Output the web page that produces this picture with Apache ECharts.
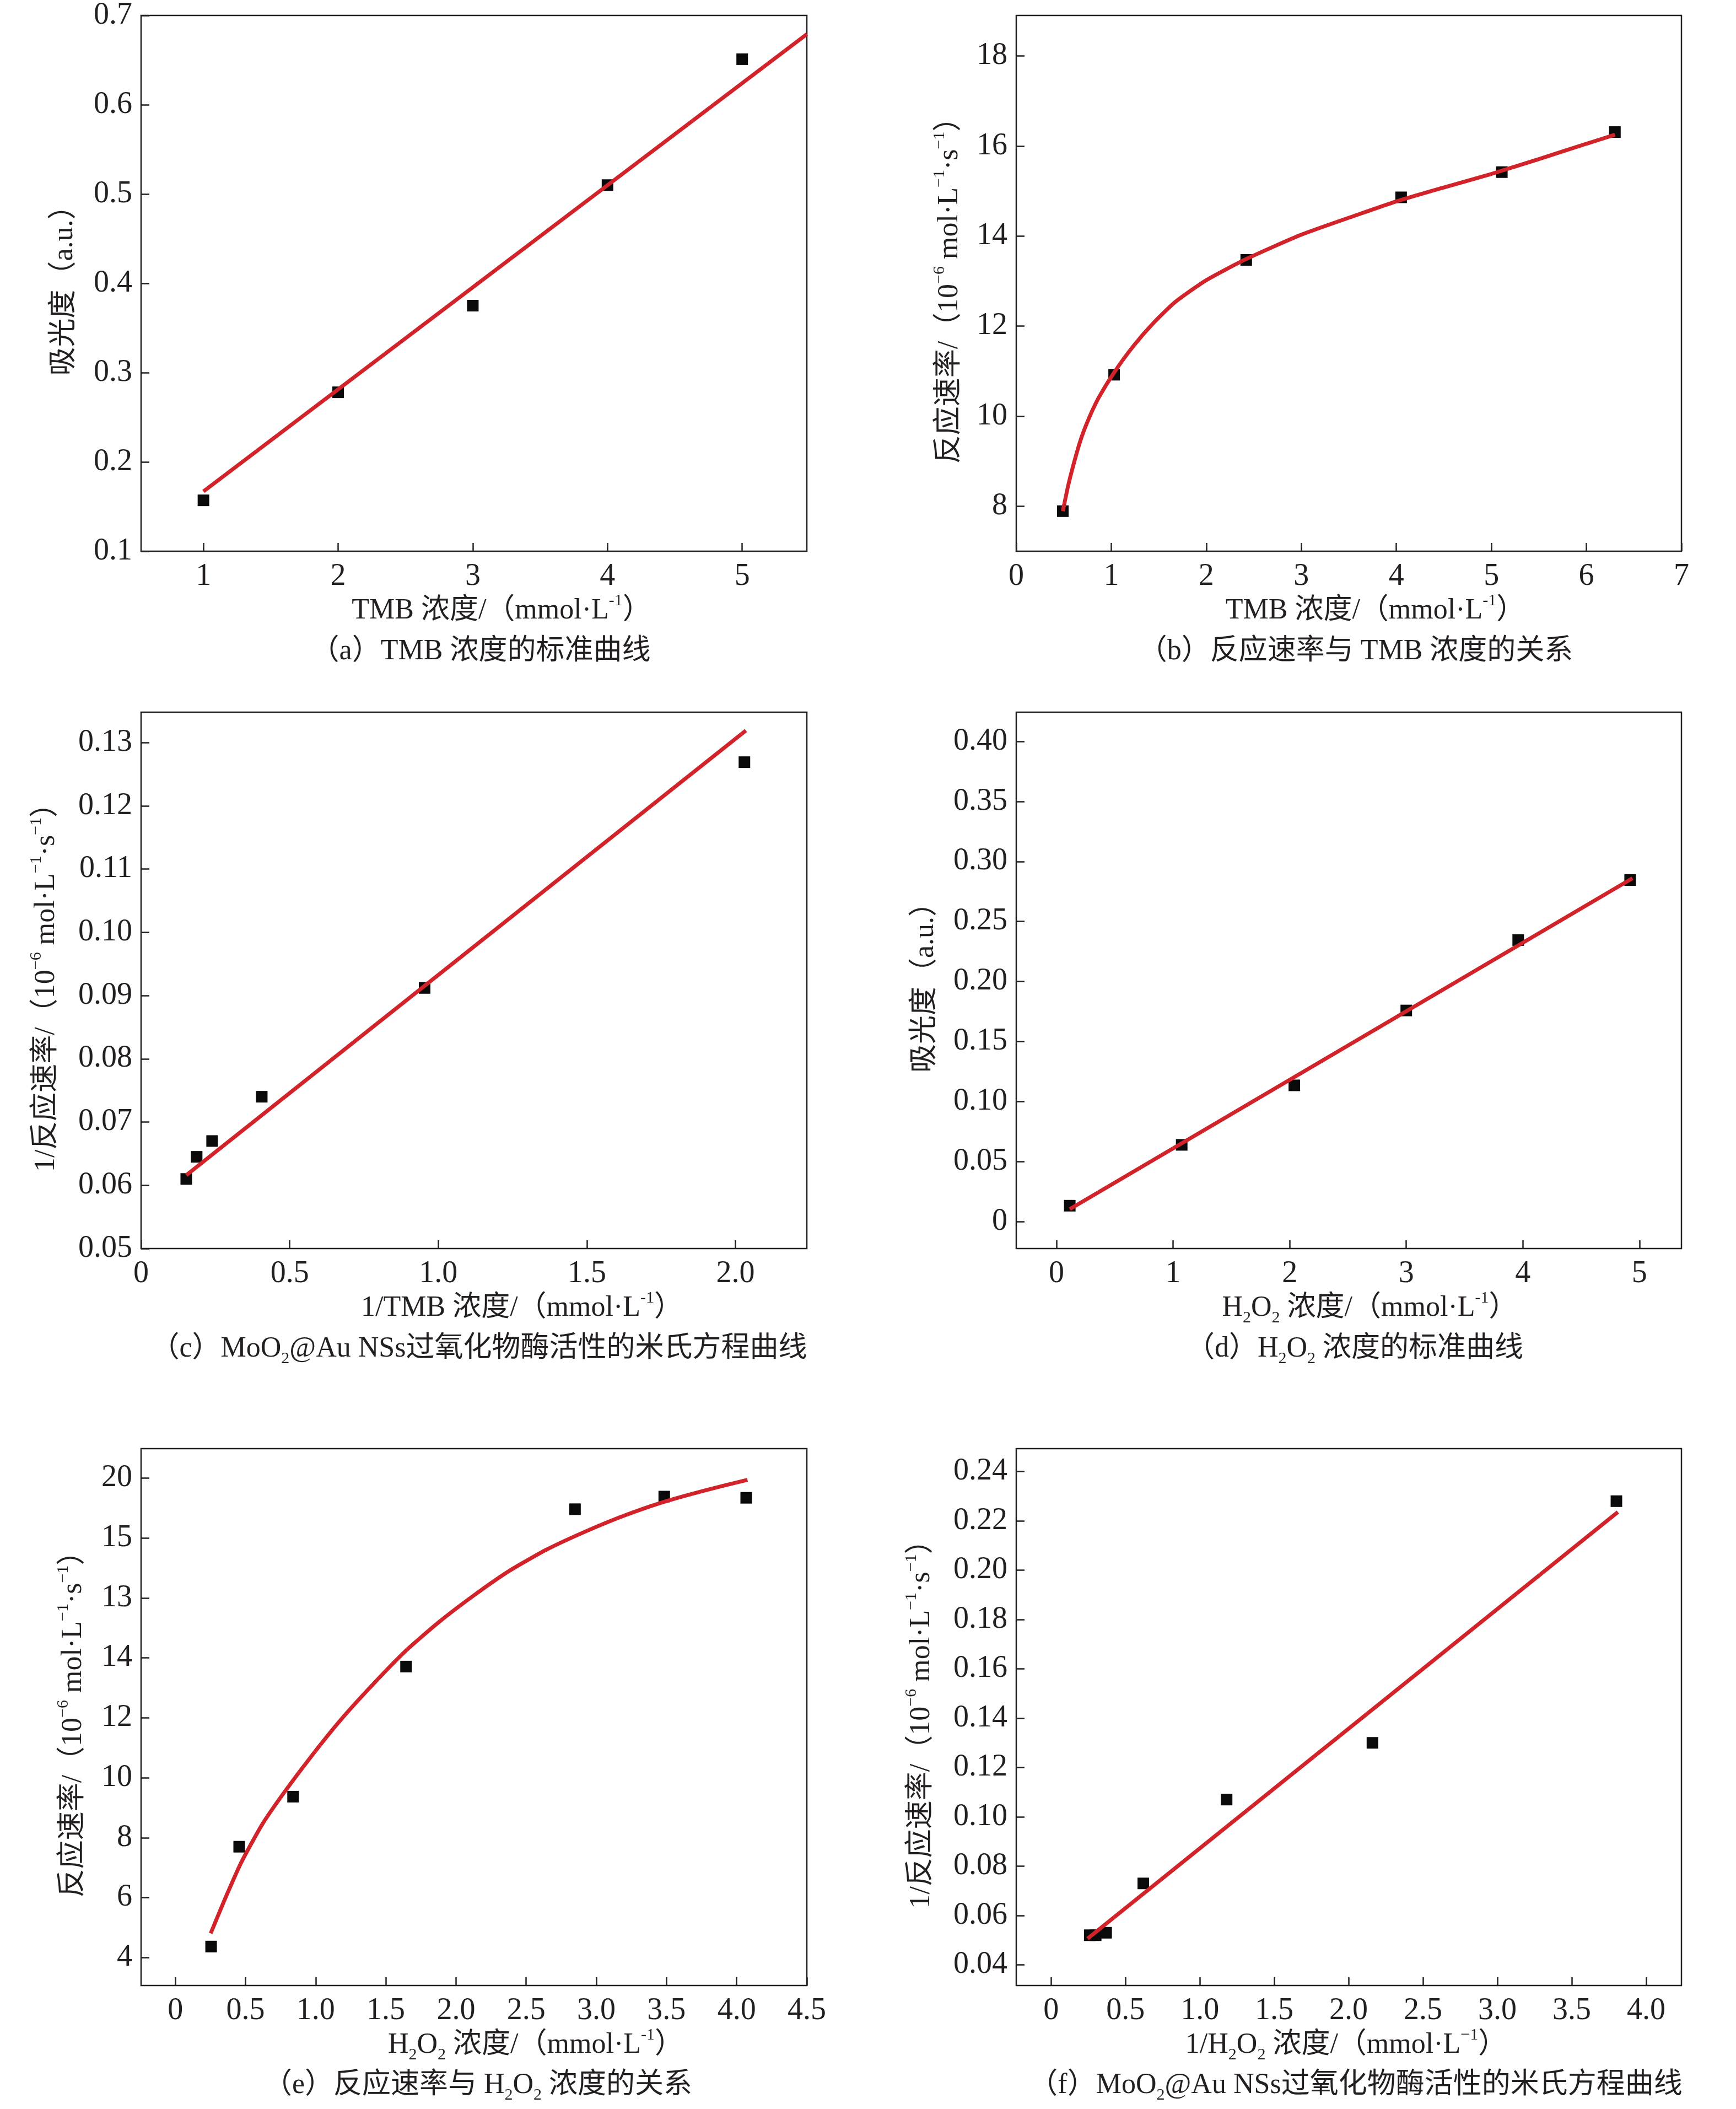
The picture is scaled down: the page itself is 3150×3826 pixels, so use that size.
<!DOCTYPE html>
<html>
<head>
<meta charset="utf-8">
<script src="https://cdn.jsdelivr.net/npm/echarts@6/dist/echarts.min.js"></script>
<style>
  html, body { margin: 0; padding: 0; background: #fff; }
  #view { width: 3150px; height: 3826px; }
</style>
</head>
<body>
<div id="view"></div>
<script>
/* (a) TMB 浓度的标准曲线 */
var aX = [1, 2, 3, 4, 5];
var aY = [0.157, 0.278, 0.375, 0.510, 0.651];
var aFitX = [1, 5.48];
var aFitY = [0.167, 0.679];
var aXTicks = [1, 2, 3, 4, 5];
var aYTicks = [0.1, 0.2, 0.3, 0.4, 0.5, 0.6, 0.7];

/* (b) 反应速率与 TMB 浓度的关系 */
var bX = [0.49, 1.03, 2.42, 4.05, 5.11, 6.30];
var bY = [7.89, 10.92, 13.47, 14.86, 15.42, 16.31];
var bFitX = [0.49, 0.55, 0.62, 0.69, 0.77, 0.87, 1.03, 1.23, 1.44, 1.67, 2.0, 2.42, 3.0, 3.6, 4.0, 4.5, 5.0, 5.5, 6.0, 6.3];
var bFitY = [7.89, 8.49, 9.06, 9.55, 9.98, 10.42, 10.97, 11.55, 12.06, 12.53, 13.02, 13.49, 14.03, 14.48, 14.77, 15.08, 15.38, 15.71, 16.05, 16.25];
var bXTicks = [0, 1, 2, 3, 4, 5, 6, 7];
var bYTicks = [8, 10, 12, 14, 16, 18];

/* (c) 米氏方程曲线 (TMB) */
var cX = [0.152, 0.187, 0.239, 0.406, 0.954, 2.03];
var cY = [0.0610, 0.0645, 0.0670, 0.0740, 0.0912, 0.1269];
var cFitX = [0.152, 2.035];
var cFitY = [0.0616, 0.1319];
var cXTicks = [0, 0.5, 1.0, 1.5, 2.0];
var cYTicks = [0.05, 0.06, 0.07, 0.08, 0.09, 0.10, 0.11, 0.12, 0.13];

/* (d) H2O2 浓度的标准曲线 */
var dX = [0.114, 1.074, 2.04, 3.0, 3.96, 4.92];
var dY = [0.0131, 0.0638, 0.1134, 0.1758, 0.2345, 0.2845];
var dFitX = [0.114, 4.94];
var dFitY = [0.0102, 0.286];
var dXTicks = [0, 1, 2, 3, 4, 5];
var dYTicks = [0, 0.05, 0.10, 0.15, 0.20, 0.25, 0.30, 0.35, 0.40];

/* (e) 反应速率与 H2O2 浓度的关系 */
var eX = [0.255, 0.455, 0.839, 1.644, 2.848, 3.484, 4.068];
var eY = [4.37, 7.70, 9.37, 13.71, 18.96, 19.38, 19.34];
var eFitX = [0.252, 0.344, 0.467, 0.62, 0.774, 0.958, 1.173, 1.389, 1.634, 1.88, 2.126, 2.372, 2.649, 2.925, 3.201, 3.478, 3.785, 4.077];
var eFitY = [4.81, 5.85, 7.15, 8.45, 9.50, 10.65, 11.90, 13.02, 14.20, 15.20, 16.08, 16.88, 17.62, 18.22, 18.75, 19.20, 19.60, 19.94];
var eXTicks = [0, 0.5, 1.0, 1.5, 2.0, 2.5, 3.0, 3.5, 4.0, 4.5];
var eYTicks = [4, 6, 8, 10, 12, 14, 16, 18, 20];
var eYTickLabels = ['4', '6', '8', '10', '12', '14', '13', '15', '20'];   // 原图刻度文字

/* (f) 米氏方程曲线 (H2O2) */
var fX = [0.26, 0.30, 0.37, 0.62, 1.18, 2.16, 3.80];
var fY = [0.052, 0.052, 0.053, 0.073, 0.107, 0.130, 0.228];
var fFitX = [0.245, 3.81];
var fFitY = [0.0506, 0.2236];
var fXTicks = [0, 0.5, 1.0, 1.5, 2.0, 2.5, 3.0, 3.5, 4.0];
var fYTicks = [0.04, 0.06, 0.08, 0.10, 0.12, 0.14, 0.16, 0.18, 0.20, 0.22, 0.24];

var FONT = "'Liberation Serif', 'Noto Sans CJK SC', serif";
var INK = '#231f20';
var RED = '#d2232a';

var rich = {
    sup: { fontSize: 30, lineHeight: 36, verticalAlign: 'top', fontFamily: FONT, color: INK, fill: INK },
    sub: { fontSize: 30, lineHeight: 30, verticalAlign: 'bottom', fontFamily: FONT, color: INK, fill: INK }
};

function zip(xs, ys) {
    return xs.map(function (x, i) { return [x, ys[i]]; });
}
function fmt1(v) { return v === 0 ? '0' : v.toFixed(1); }
function fmt2(v) { return v === 0 ? '0' : v.toFixed(2); }

var rateName = '反应速率/（10{sup|−6} mol·L{sup|−1}·s{sup|−1}）';
var invRateName = '1/反应速率/（10{sup|−6} mol·L{sup|−1}·s{sup|−1}）';

/* 六个子图的配置 */
var panels = [
    { grid: [256, 28, 1208, 972], x: [0.537, 5.48], y: [0.1, 0.7],
      xt: aXTicks, yt: aYTicks, xf: String, yf: fmt1,
      xName: 'TMB 浓度/（mmol·L{sup|-1}）', xShift: 50, xGap: 72,
      yName: '吸光度（a.u.）', yGap: 106,
      pts: zip(aX, aY), fit: zip(aFitX, aFitY), smooth: false,
      cap: '（a）TMB 浓度的标准曲线', capXY: [872, 1182] },
    { grid: [1844, 28, 1207, 972], x: [0, 7], y: [7.0, 18.9],
      xt: bXTicks, yt: bYTicks, xf: String, yf: String,
      xName: 'TMB 浓度/（mmol·L{sup|-1}）', xShift: 48, xGap: 72,
      yName: rateName, yGap: 88,
      pts: zip(bX, bY), fit: zip(bFitX, bFitY), smooth: true,
      cap: '（b）反应速率与 TMB 浓度的关系', capXY: [2460, 1182] },
    { grid: [256, 1292, 1208, 973], x: [0, 2.24], y: [0.05, 0.1348],
      xt: cXTicks, yt: cYTicks, xf: fmt1, yf: function (v) { return v.toFixed(2); },
      xName: '1/TMB 浓度/（mmol·L{sup|-1}）', xShift: 87, xGap: 72,
      yName: invRateName, yGap: 139,
      pts: zip(cX, cY), fit: zip(cFitX, cFitY), smooth: false,
      cap: '（c）MoO{sub|2}@Au NSs过氧化物酶活性的米氏方程曲线', capXY: [869, 2447] },
    { grid: [1844, 1292, 1207, 973], x: [-0.345, 5.36], y: [-0.0226, 0.4244],
      xt: dXTicks, yt: dYTicks, xf: String, yf: fmt2,
      xName: 'H{sub|2}O{sub|2} 浓度/（mmol·L{sup|-1}）', xShift: 38, xGap: 72,
      yName: '吸光度（a.u.）', yGap: 132,
      pts: zip(dX, dY), fit: zip(dFitX, dFitY), smooth: false,
      cap: '（d）H{sub|2}O{sub|2} 浓度的标准曲线', capXY: [2458, 2447] },
    { grid: [256, 2628, 1208, 974], x: [-0.244, 4.5], y: [3.07, 20.98],
      xt: eXTicks, yt: eYTicks, xf: fmt1,
      yf: function (v) { return eYTickLabels[eYTicks.indexOf(v)]; },
      xName: 'H{sub|2}O{sub|2} 浓度/（mmol·L{sup|-1}）', xShift: 112, xGap: 72,
      yName: rateName, yGap: 90,
      pts: zip(eX, eY), fit: zip(eFitX, eFitY), smooth: true,
      cap: '（e）反应速率与 H{sub|2}O{sub|2} 浓度的关系', capXY: [867, 3783] },
    { grid: [1844, 2628, 1207, 974], x: [-0.234, 4.237], y: [0.0316, 0.2493],
      xt: fXTicks, yt: fYTicks, xf: fmt1, yf: function (v) { return v.toFixed(2); },
      xName: '1/H{sub|2}O{sub|2} 浓度/（mmol·L{sup|−1}）', xShift: -5, xGap: 72,
      yName: invRateName, yGap: 139,
      pts: zip(fX, fY), fit: zip(fFitX, fFitY), smooth: false,
      cap: '（f）MoO{sub|2}@Au NSs过氧化物酶活性的米氏方程曲线', capXY: [2460, 3783] }
];

var myCharts = echarts.init(document.getElementById('view'));

var option = {
    animation: false,
    backgroundColor: '#fff',
    grid: [], xAxis: [], yAxis: [], series: [], graphic: []
};

panels.forEach(function (p, i) {
    option.grid.push({
        left: p.grid[0], top: p.grid[1], width: p.grid[2], height: p.grid[3],
        show: true, borderColor: INK, borderWidth: 2.5, backgroundColor: 'transparent'
    });
    var tickStyle = { inside: true, length: 15, lineStyle: { color: INK, width: 2.5 } };
    option.xAxis.push({
        type: 'value', gridIndex: i, min: p.x[0], max: p.x[1],
        axisLine: { show: false, onZero: false },
        splitLine: { show: false },
        axisTick: Object.assign({ customValues: p.xt }, tickStyle),
        axisLabel: { customValues: p.xt, formatter: p.xf, fontSize: 56, fontFamily: FONT, color: INK, margin: 18 },
        name: p.xName, nameLocation: 'middle', nameGap: p.xGap,
        nameTextStyle: { fontSize: 52, fontFamily: FONT, color: INK, lineHeight: 66, rich: rich,
            padding: p.xShift >= 0 ? [0, 0, 0, 2 * p.xShift] : [0, -2 * p.xShift, 0, 0] }
    });
    option.yAxis.push({
        type: 'value', gridIndex: i, min: p.y[0], max: p.y[1],
        axisLine: { show: false, onZero: false },
        splitLine: { show: false },
        axisTick: Object.assign({ customValues: p.yt }, tickStyle),
        axisLabel: { customValues: p.yt, formatter: p.yf, fontSize: 56, fontFamily: FONT, color: INK, margin: 16 },
        name: p.yName, nameLocation: 'middle', nameGap: p.yGap,
        nameTextStyle: { fontSize: 52, fontFamily: FONT, color: INK, lineHeight: 66, rich: rich }
    });
    /* 实验数据点 */
    option.series.push({
        type: 'scatter', xAxisIndex: i, yAxisIndex: i, data: p.pts,
        symbol: 'rect', symbolSize: 21, z: 2,
        itemStyle: { color: '#0a0a0a', opacity: 1 }
    });
    /* 拟合曲线 */
    option.series.push({
        type: 'line', xAxisIndex: i, yAxisIndex: i, data: p.fit,
        showSymbol: false, smooth: p.smooth ? 0.2 : false, z: 3,
        lineStyle: { color: RED, width: 7 }
    });
    /* 子图标题 */
    option.graphic.push({
        type: 'text', x: p.capXY[0], y: p.capXY[1],
        style: {
            text: p.cap, align: 'center', verticalAlign: 'middle',
            fontSize: 52, fontFamily: FONT, fill: INK, lineHeight: 66, rich: rich
        }
    });
});

myCharts.setOption(option);
</script>
</body>
</html>
